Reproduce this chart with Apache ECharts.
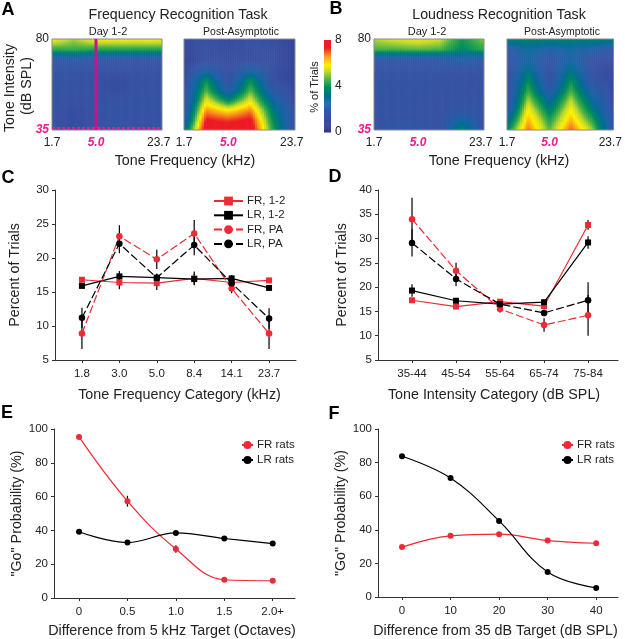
<!DOCTYPE html>
<html>
<head>
<meta charset="utf-8">
<style>
  html, body { margin: 0; padding: 0; background: #fff; }
  #main { width: 625px; height: 639px; }
</style>
</head>
<body>
<div id="main"></div>
<script src="https://cdn.jsdelivr.net/npm/echarts@6/dist/echarts.min.js"></script>
<script>
// contour panels: columns are the 6 frequency bands, rows run 35 -> 80 dB in 5 dB steps
var heatLevels = [35, 40, 45, 50, 55, 60, 65, 70, 75, 80];
var heatFRearly = [
  [1.5, 1.2, 1.5, 1.5, 1.3, 1.5],
  [1.5, 1.2, 1.5, 1.5, 1.4, 1.5],
  [1.5, 1.2, 1.5, 1.5, 1.5, 1.5],
  [1.5, 1.4, 1.5, 1.5, 1.5, 1.5],
  [1.5, 1.5, 1.4, 1.2, 1.5, 1.4],
  [1.5, 1.5, 1.4, 1.2, 1.5, 1.4],
  [1.5, 1.5, 1.5, 1.4, 1.5, 1.4],
  [1.7, 1.9, 1.6, 1.6, 1.5, 1.6],
  [4.4, 4.5, 4.3, 4.3, 4.3, 4.3],
  [5.8, 5.1, 5.8, 5.8, 5.8, 5.8]
];
var heatFRpost = [
  [3.0, 8.0, 8.0, 8.0, 4.4, 1.4],
  [2.0, 7.5, 7.2, 7.6, 4.0, 1.3],
  [1.5, 6.6, 5.9, 6.7, 3.6, 1.2],
  [1.3, 5.6, 3.8, 5.6, 2.8, 1.1],
  [1.2, 4.7, 2.0, 4.7, 1.9, 1.1],
  [1.0, 4.0, 1.4, 4.0, 1.4, 0.9],
  [0.9, 2.3, 1.3, 2.4, 1.3, 0.8],
  [0.8, 1.3, 1.2, 1.2, 1.3, 0.8],
  [1.0, 1.3, 1.1, 1.3, 1.3, 0.8],
  [1.2, 1.4, 1.2, 1.4, 1.3, 1.0]
];
var heatLRearly = [
  [1.5, 1.9, 1.8, 1.4, 4.1, 1.4],
  [1.5, 1.5, 1.5, 1.4, 2.8, 1.4],
  [1.5, 1.5, 1.5, 1.4, 1.7, 1.4],
  [1.5, 1.5, 1.5, 1.4, 1.5, 1.4],
  [1.7, 1.5, 1.6, 1.5, 1.5, 1.4],
  [1.6, 1.5, 1.6, 1.5, 1.4, 1.4],
  [1.5, 1.5, 1.5, 1.5, 1.5, 1.5],
  [1.7, 1.7, 1.7, 1.7, 2.2, 1.8],
  [4.6, 4.6, 4.7, 4.6, 3.8, 4.4],
  [5.2, 5.5, 5.7, 5.4, 4.1, 5.0]
];
var heatLRpost = [
  [3.8, 6.9, 4.8, 7.0, 5.2, 1.7],
  [2.8, 6.4, 4.3, 6.4, 4.4, 1.6],
  [1.8, 5.9, 3.6, 5.9, 3.6, 1.4],
  [1.3, 5.2, 2.8, 5.3, 2.9, 1.2],
  [1.2, 4.5, 1.9, 4.6, 2.2, 1.1],
  [1.2, 3.9, 1.4, 4.0, 1.6, 1.1],
  [1.2, 3.3, 1.3, 3.3, 1.4, 1.1],
  [1.4, 2.6, 1.5, 2.6, 1.4, 1.3],
  [1.8, 2.9, 2.3, 2.7, 2.3, 1.5],
  [3.7, 3.7, 3.7, 3.7, 3.7, 3.7]
];
var heatTickPos = [0, 2, 4.85];
var heatTickText = ['1.7', '5.0', '23.7'];
var colorbarValues = [0, 0.5, 1, 1.5, 2, 2.5, 3, 3.5, 4, 4.5, 5, 5.5, 6, 6.5, 7, 7.5];

// colour scale of the contour panels
var scaleStops = [0, 1.4, 2.4, 3.2, 3.9, 4.6, 5.3, 5.9, 6.6, 7.4, 8];
var scaleColors = ['#2b2e83', '#3953a4', '#1f62a8', '#00708f', '#008a5e', '#3fae49', '#c4d92e', '#fff200', '#f7941d', '#ed1c24', '#ed1c24'];

// panel C
var freqCategories = ['1.8', '3.0', '5.0', '8.4', '14.1', '23.7'];
var cFR12 = [16.8, 16.4, 16.3, 17.0, 16.4, 16.7];
var cLR12 = [15.9, 17.3, 17.1, 16.9, 17.0, 15.6];
var cFRPA = [8.9, 23.2, 19.8, 23.6, 15.5, 8.9];
var cLRPA = [11.2, 22.1, 17.1, 21.9, 16.3, 11.1];
var cFR12err = [0.3, 1.0, 1.0, 1.0, 0.5, 0.3];
var cLR12err = [0.4, 0.8, 0.6, 0.8, 0.5, 0.4];
var cFRPAerr = [2.3, 1.6, 1.4, 2.0, 0.7, 2.3];
var cLRPAerr = [1.5, 1.4, 0.6, 1.5, 0.8, 1.5];

// panel D
var intCategories = ['35-44', '45-54', '55-64', '65-74', '75-84'];
var dFR12 = [17.3, 16.0, 17.0, 16.1, 32.8];
var dLR12 = [19.3, 17.2, 16.5, 16.9, 29.2];
var dFRPA = [34.0, 23.4, 15.5, 12.2, 14.2];
var dLRPA = [29.1, 21.7, 16.5, 14.7, 17.3];
var dFR12err = [0.3, 0.4, 0.4, 0.5, 1.0];
var dLR12err = [1.3, 0.4, 0.4, 0.5, 1.3];
var dFRPAerr = [4.4, 1.6, 0.7, 1.4, 4.2];
var dLRPAerr = [2.8, 1.5, 0.6, 0.7, 3.7];

// panel E
var octaveCategories = ['0', '0.5', '1.0', '1.5', '2.0+'];
var eFR = [95.3, 57.3, 29.0, 10.8, 10.2];
var eLR = [39.2, 32.8, 38.5, 35.2, 32.2];
var eFRerr = [0.8, 3.2, 2.2, 0.8, 0.5];
var eLRerr = [0.5, 0.5, 0.5, 0.5, 0.5];

// panel F
var dbCategories = ['0', '10', '20', '30', '40'];
var fFR = [29.7, 36.4, 37.4, 33.6, 32.0];
var fLR = [83.8, 70.8, 45.3, 14.9, 5.4];
var fFRerr = [0.5, 0.5, 0.5, 0.5, 0.5];
var fLRerr = [0.5, 0.5, 0.5, 0.5, 0.5];

var RED = '#ee2a35';
var BLACK = '#000';
var INK = '#222';
var PINK = '#ec1c8e';
var FONT = '"Liberation Sans", Arial, sans-serif';

function hex(c) {
  return [parseInt(c.substr(1, 2), 16), parseInt(c.substr(3, 2), 16), parseInt(c.substr(5, 2), 16)];
}
function scaleColor(v) {
  var i = 0;
  while (i < scaleStops.length - 2 && v > scaleStops[i + 1]) i++;
  var t = Math.max(0, Math.min(1, (v - scaleStops[i]) / (scaleStops[i + 1] - scaleStops[i])));
  var a = hex(scaleColors[i]), b = hex(scaleColors[i + 1]);
  return 'rgb(' + Math.round(a[0] + (b[0] - a[0]) * t) + ',' + Math.round(a[1] + (b[1] - a[1]) * t) + ',' + Math.round(a[2] + (b[2] - a[2]) * t) + ')';
}

var grids = [], xAxes = [], yAxes = [], series = [], graphics = [];

function label(text, x, y, size, opts) {
  graphics.push({
    type: 'text', x: x, y: y, rotation: (opts && opts.rotation) || 0, silent: true,
    style: {
      text: text, font: ((opts && opts.bold) ? 'bold ' : '') + size + 'px ' + FONT,
      fill: (opts && opts.fill) || INK, align: 'center', verticalAlign: 'middle'
    }
  });
}

// contour panel: each cell between data nodes is shaded by bilinear blending of its corners
function contourPanel(matrix, box, showY) {
  var idx = grids.length;
  grids.push({ left: box[0], top: box[1], width: box[2], height: box[3], show: true, borderColor: '#8a8a8a', borderWidth: 1, z: 5 });
  xAxes.push({
    gridIndex: idx, type: 'value', min: 0, max: 5,
    axisLine: { show: false }, axisTick: { show: false }, splitLine: { show: false },
    axisLabel: {
      customValues: heatTickPos, fontFamily: FONT, fontSize: 12, color: INK, margin: 7,
      formatter: function (v) {
        var t = heatTickText[heatTickPos.indexOf(v)];
        return t === '5.0' ? '{pink|5.0}' : t;
      },
      rich: { pink: { color: PINK, fontWeight: 'bold', fontStyle: 'italic', fontSize: 12, fontFamily: FONT } }
    }
  });
  yAxes.push({
    gridIndex: idx, type: 'value', min: 35, max: 80,
    axisLine: { show: false }, axisTick: { show: false }, splitLine: { show: false },
    axisLabel: {
      show: showY, customValues: [35, 80], fontFamily: FONT, fontSize: 12, color: INK, margin: 3,
      formatter: function (v) { return v === 35 ? '{pink|35}' : String(v); },
      rich: { pink: { color: PINK, fontWeight: 'bold', fontStyle: 'italic', fontSize: 12, fontFamily: FONT } }
    }
  });
  var cells = [];
  for (var r = 0; r < heatLevels.length - 1; r++) {
    for (var c = 0; c < 5; c++) cells.push([c, heatLevels[r], r]);
  }
  series.push({
    type: 'custom', xAxisIndex: idx, yAxisIndex: idx, silent: true, clip: true,
    data: cells,
    renderItem: function (params, api) {
      var c = api.value(0), r = api.value(2);
      var lo = heatLevels[r], hi = heatLevels[r + 1], kids = [], n = 10;
      var v00 = matrix[r][c], v10 = matrix[r][c + 1], v01 = matrix[r + 1][c], v11 = matrix[r + 1][c + 1];
      for (var i = 0; i < n; i++) {
        for (var j = 0; j < n; j++) {
          var p0 = api.coord([c + i / n, lo + (hi - lo) * j / n]);
          var p1 = api.coord([c + (i + 1) / n, lo + (hi - lo) * (j + 1) / n]);
          var u = (i + 0.5) / n, w = (j + 0.5) / n;
          var v = v00 * (1 - u) * (1 - w) + v10 * u * (1 - w) + v01 * (1 - u) * w + v11 * u * w;
          kids.push({
            type: 'rect',
            shape: { x: p0[0], y: p1[1], width: p1[0] - p0[0] + 0.6, height: p0[1] - p1[1] + 0.6 },
            style: { fill: scaleColor(v) }
          });
        }
      }
      return { type: 'group', children: kids };
    }
  });
  return idx;
}

function addColorbar(box) {
  var idx = grids.length;
  grids.push({ left: box[0], top: box[1], width: box[2], height: box[3] });
  xAxes.push({ gridIndex: idx, type: 'value', min: 0, max: 1, show: false });
  yAxes.push({
    gridIndex: idx, type: 'value', position: 'right', min: 0, max: 8, interval: 4,
    axisLine: { show: false }, axisTick: { show: false }, splitLine: { show: false },
    axisLabel: { fontFamily: FONT, fontSize: 12, color: INK, margin: 4 }
  });
  series.push({
    type: 'custom', xAxisIndex: idx, yAxisIndex: idx, silent: true,
    data: colorbarValues.map(function (v) { return [0, v]; }),
    renderItem: function (params, api) {
      var v = api.value(1), kids = [];
      for (var i = 0; i < 6; i++) {
        var p0 = api.coord([0, v + 0.5 * i / 6]);
        var p1 = api.coord([1, v + 0.5 * (i + 1) / 6]);
        kids.push({ type: 'rect', shape: { x: p0[0], y: p1[1], width: p1[0] - p0[0], height: p0[1] - p1[1] + 0.5 }, style: { fill: scaleColor(v + 0.5 * (i + 0.5) / 6) } });
      }
      return { type: 'group', children: kids };
    }
  });
}

// value x axis so the ticks sit at category positions with the spare room of the original
function plotPanel(p) {
  var idx = grids.length;
  var ticks = p.categories.map(function (c, i) { return i; });
  grids.push({ left: p.box[0], top: p.box[1], width: p.box[2], height: p.box[3] });
  xAxes.push({
    gridIndex: idx, type: 'value', min: p.xRange[0], max: p.xRange[1],
    name: p.xName, nameLocation: 'middle', nameGap: p.nameGap,
    nameTextStyle: { fontFamily: FONT, fontSize: 14.3, color: INK, padding: [0, p.namePadRight || 0, 0, p.namePadLeft || 0] },
    splitLine: { show: false },
    axisLine: { onZero: false, lineStyle: { color: '#333', width: 1 } },
    axisTick: { customValues: ticks, length: 3, lineStyle: { color: '#333' } },
    axisLabel: {
      customValues: ticks, margin: 8, fontFamily: FONT, fontSize: 11.5, color: INK,
      formatter: function (v) { return p.categories[v]; }
    }
  });
  yAxes.push({
    gridIndex: idx, type: 'value', min: p.yRange[0], max: p.yRange[1], interval: p.yInterval,
    name: p.yName, nameLocation: 'middle', nameGap: p.yNameGap, nameRotate: 90,
    nameTextStyle: { fontFamily: FONT, fontSize: 14.3, color: INK },
    splitLine: { show: false },
    axisLine: { show: true, onZero: false, lineStyle: { color: '#333', width: 1 } },
    axisTick: { show: true, length: 3, lineStyle: { color: '#333' } },
    axisLabel: { margin: 6, fontFamily: FONT, fontSize: 11.5, color: INK }
  });
  p.lines.forEach(function (s) {
    series.push({
      type: 'custom', xAxisIndex: idx, yAxisIndex: idx, silent: true, z: 1,
      data: s.values.map(function (v, i) { return [i, v - s.err[i], v + s.err[i]]; }),
      renderItem: function (params, api) {
        var a = api.coord([api.value(0), api.value(1)]);
        var b = api.coord([api.value(0), api.value(2)]);
        return { type: 'line', shape: { x1: a[0], y1: a[1], x2: b[0], y2: b[1] }, style: { stroke: BLACK, lineWidth: 1.2 } };
      }
    });
  });
  p.lines.forEach(function (s, k) {
    series.push({
      name: s.name, type: 'line', xAxisIndex: idx, yAxisIndex: idx, silent: true, z: 3 + k,
      smooth: p.smooth ? 0.4 : false,
      data: s.values.map(function (v, i) { return [i, v]; }),
      symbol: s.symbol, symbolSize: s.size,
      itemStyle: { color: s.color },
      lineStyle: { color: s.color, width: s.width || 1.2, type: s.dash ? [8, 3] : 'solid' }
    });
  });
  return idx;
}

// A
contourPanel(heatFRearly, [52, 39, 110, 91], true);
contourPanel(heatFRpost, [184, 39, 111, 91], false);
// B
contourPanel(heatLRearly, [374, 39, 110, 91], true);
contourPanel(heatLRpost, [507, 39, 111, 91], false);
addColorbar([324, 40, 7, 92]);

// target markers on the first contour panel (series, so they follow the axes)
series.push({
  type: 'line', xAxisIndex: 0, yAxisIndex: 0, silent: true, symbol: 'none', z: 6,
  data: [[2, 35], [2, 80]], lineStyle: { color: '#c4168c', width: 3 }
});
series.push({
  type: 'line', xAxisIndex: 0, yAxisIndex: 0, silent: true, symbol: 'none', z: 6,
  data: [[0, 36], [5, 36]], lineStyle: { color: PINK, width: 2, type: [3, 2] }
});

// C
plotPanel({
  box: [55, 190, 241, 170], xRange: [-0.72, 5.72], yRange: [5, 30], yInterval: 5,
  categories: freqCategories, xName: 'Tone Frequency Category (kHz)', nameGap: 28, namePadLeft: 8,
  yName: 'Percent of Trials', yNameGap: 33,
  lines: [
    { name: 'FR, 1-2', values: cFR12, err: cFR12err, color: RED, symbol: 'rect', size: 6 },
    { name: 'LR, 1-2', values: cLR12, err: cLR12err, color: BLACK, symbol: 'rect', size: 6 },
    { name: 'FR, PA', values: cFRPA, err: cFRPAerr, color: RED, symbol: 'circle', size: 6.5, dash: true },
    { name: 'LR, PA', values: cLRPA, err: cLRPAerr, color: BLACK, symbol: 'circle', size: 6.5, dash: true }
  ]
});
// D
plotPanel({
  box: [378, 190, 240, 170], xRange: [-0.773, 4.68], yRange: [5, 40], yInterval: 5,
  categories: intCategories, xName: 'Tone Intensity Category (dB SPL)', nameGap: 28, namePadRight: 8,
  yName: 'Percent of Trials', yNameGap: 29,
  lines: [
    { name: 'FR, 1-2 D', values: dFR12, err: dFR12err, color: RED, symbol: 'rect', size: 6 },
    { name: 'LR, 1-2 D', values: dLR12, err: dLR12err, color: BLACK, symbol: 'rect', size: 6 },
    { name: 'FR, PA D', values: dFRPA, err: dFRPAerr, color: RED, symbol: 'circle', size: 6.5, dash: true },
    { name: 'LR, PA D', values: dLRPA, err: dLRPAerr, color: BLACK, symbol: 'circle', size: 6.5, dash: true }
  ]
});
// E
plotPanel({
  box: [54, 429, 241, 170], xRange: [-0.517, 4.46], yRange: [0, 100], yInterval: 20,
  categories: octaveCategories, xName: 'Difference from 5 kHz Target (Octaves)', nameGap: 26, namePadRight: 5, smooth: true,
  yName: '"Go" Probability (%)', yNameGap: 30,
  lines: [
    { name: 'FR rats', values: eFR, err: eFRerr, color: RED, symbol: 'circle', size: 6 },
    { name: 'LR rats', values: eLR, err: eLRerr, color: BLACK, symbol: 'circle', size: 6 }
  ]
});
// F
plotPanel({
  box: [378, 429, 240, 169], xRange: [-0.495, 4.45], yRange: [0, 100], yInterval: 20,
  categories: dbCategories, xName: 'Difference from 35 dB Target (dB SPL)', nameGap: 27, namePadRight: 5, smooth: true,
  yName: '"Go" Probability (%)', yNameGap: 30,
  lines: [
    { name: 'FR rats F', values: fFR, err: fFRerr, color: RED, symbol: 'circle', size: 6 },
    { name: 'LR rats F', values: fLR, err: fLRerr, color: BLACK, symbol: 'circle', size: 6 }
  ]
});

// panel letters and shared titles
label('A', 8, 10, 18, { bold: true, fill: '#000' });
label('B', 336, 9, 18, { bold: true, fill: '#000' });
label('C', 8, 178, 18, { bold: true, fill: '#000' });
label('D', 335, 177, 18, { bold: true, fill: '#000' });
label('E', 7, 413, 18, { bold: true, fill: '#000' });
label('F', 334, 414, 18, { bold: true, fill: '#000' });
label('Frequency Recognition Task', 178, 15, 14.2);
label('Loudness Recognition Task', 499, 15, 14.2);
label('Day 1-2', 108, 32, 11);
label('Post-Asymptotic', 241, 32, 10.5);
label('Day 1-2', 427, 32, 11);
label('Post-Asymptotic', 562, 32, 10.5);
label('Tone Frequency (kHz)', 185, 161, 14.3);
label('Tone Frequency (kHz)', 499, 161, 14.3);
label('Tone Intensity', 10, 88, 14.3, { rotation: Math.PI / 2 });
label('(dB SPL)', 27, 86, 14.3, { rotation: Math.PI / 2 });
label('% of Trials', 315, 87, 11, { rotation: Math.PI / 2 });

function legendBlock(names, left, top, itemWidth, itemHeight, gap) {
  return {
    data: names, orient: 'vertical', left: left, top: top, padding: 0,
    itemWidth: itemWidth, itemHeight: itemHeight, itemGap: gap,
    textStyle: { fontFamily: FONT, fontSize: 11.5, color: INK, padding: [0, 0, 0, -1] },
    selectedMode: false,
    formatter: function (n) { return n.replace(/ [DF]$/, ''); }
  };
}

var chart = echarts.init(document.getElementById('main'), null, { renderer: 'canvas' });
chart.setOption({
  animation: false,
  backgroundColor: '#fff',
  grid: grids,
  xAxis: xAxes,
  yAxis: yAxes,
  legend: [
    legendBlock(['FR, 1-2', 'LR, 1-2', 'FR, PA', 'LR, PA'], 213, 195, 29, 11, 2.3),
    legendBlock(['FR rats', 'LR rats'], 241, 439, 11, 10, 3),
    legendBlock(['FR rats F', 'LR rats F'], 561, 439, 11, 10, 3)
  ],
  series: series,
  graphic: { elements: graphics }
});
</script>
</body>
</html>
